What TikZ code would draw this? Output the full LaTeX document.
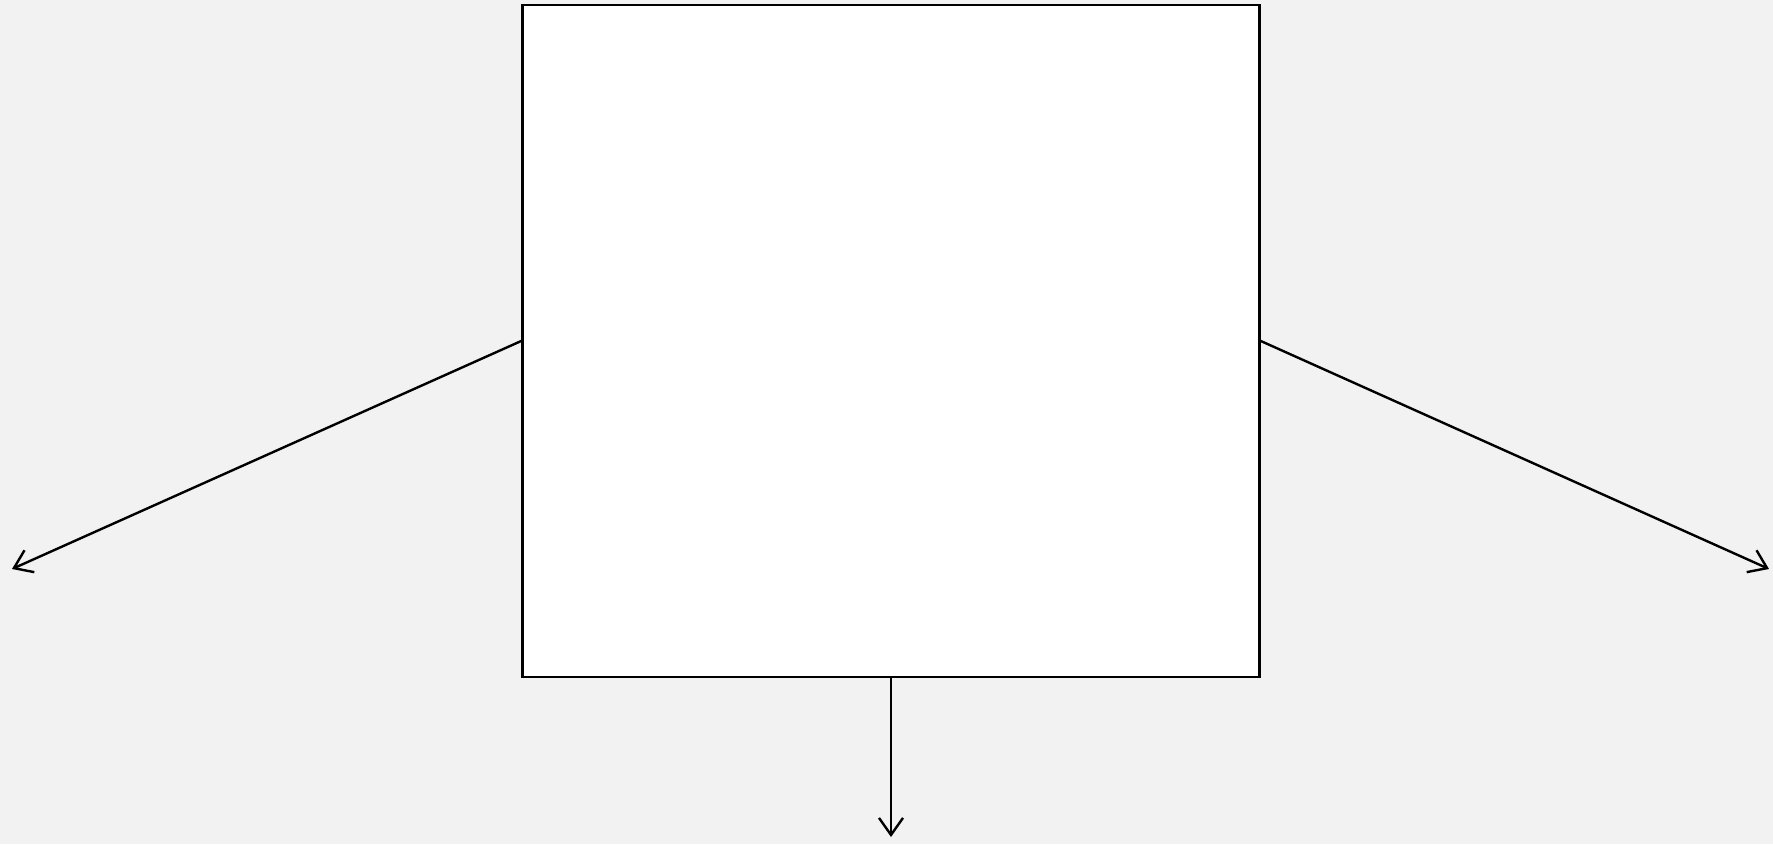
\documentclass[tikz,border=0pt]{standalone}
\usetikzlibrary{arrows.meta}
\definecolor{bg}{HTML}{F2F2F2}
\begin{document}
\begin{tikzpicture}[x=1pt,y=-1pt,
  conn/.style={line width=2.4pt,line cap=round,-{Straight Barb[length=17pt,width=24pt,line width=2.4pt]}},
  boxst/.style={draw=black,fill=white,line width=2.6pt,rectangle,minimum width=737pt,minimum height=672pt,inner sep=0pt}]
\fill[bg] (0,0) rectangle (1773,844);
\useasboundingbox (0,0) rectangle (1773,844);
\node[boxst] (box) at (891,341) {};
\coordinate (L) at (12,569);
\coordinate (R) at (1769,569);
\coordinate (B) at (891,837);
\draw[conn] (box.west) -- (L);
\draw[conn] (box.east) -- (R);
\draw[conn] (box.south) -- (B);
\end{tikzpicture}
\end{document}
